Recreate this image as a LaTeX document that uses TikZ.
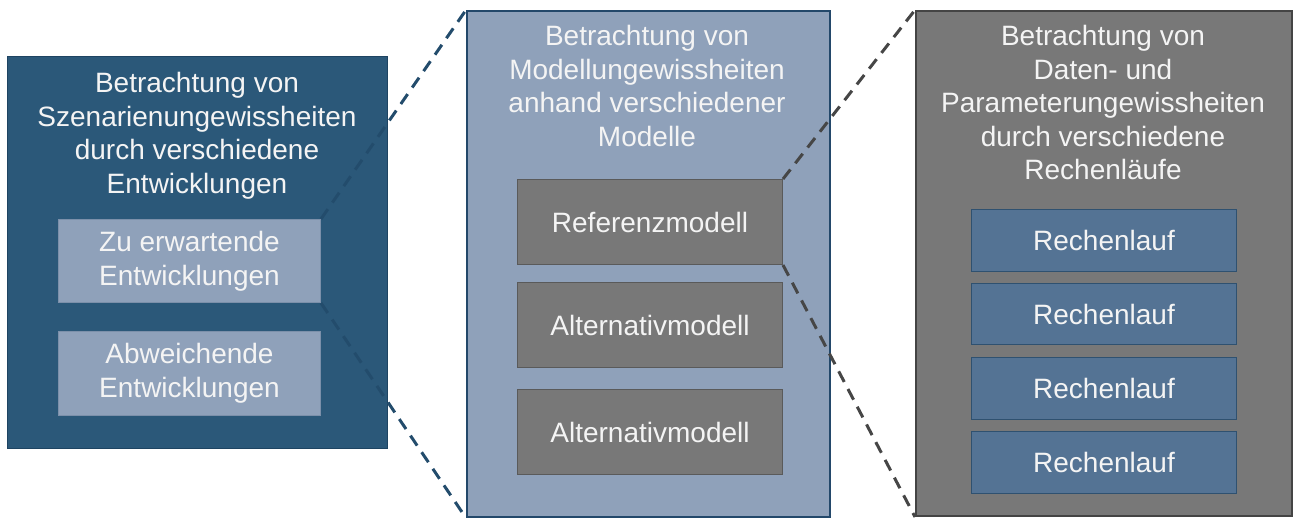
\documentclass[tikz,border=0pt]{standalone}
\usepackage{fontspec}
\setmainfont{Liberation Sans}
\definecolor{leftfill}{HTML}{2B5879}
\definecolor{leftline}{HTML}{1E4462}
\definecolor{lightfill}{HTML}{8FA1BA}
\definecolor{lightline}{HTML}{7C90AA}
\definecolor{midline}{HTML}{23486A}
\definecolor{greyfill}{HTML}{787878}
\definecolor{greyline}{HTML}{5A5A5A}
\definecolor{rightline}{HTML}{444444}
\definecolor{runfill}{HTML}{547394}
\definecolor{runline}{HTML}{2F5170}
\definecolor{dashblue}{HTML}{234C6C}
\definecolor{dashgrey}{HTML}{464646}
\definecolor{txt}{HTML}{F4F4F4}
\begin{document}
\begin{tikzpicture}[x=1pt,y=-1pt,
  box/.style={draw, rectangle, inner sep=0pt, anchor=north west, line width=#1},
  box/.default=1pt,
  lbl/.style={text=txt, align=center, font=\fontsize{28}{33.6}\selectfont},
  title/.style={lbl, anchor=north, inner sep=0pt},
  inbox/.style={box=1pt, lbl},
  conn/.style={line width=3pt, dash pattern=on 12pt off 8pt}]
\useasboundingbox (0,0) rectangle (1298,518);
% outer boxes
\node[box=1.2pt, fill=leftfill, draw=leftline, minimum width=380pt, minimum height=392pt] (L) at (7,56) {};
\node[box=2pt, fill=lightfill, draw=midline, minimum width=363pt, minimum height=506pt] (M) at (466,10) {};
\node[box=2pt, fill=greyfill, draw=rightline, minimum width=376pt, minimum height=505pt] (R) at (915,10) {};
% titles
\node[title] (Lt) at (197,72) {Betrachtung von\\Szenarienungewissheiten\\durch verschiedene\\Entwicklungen};
\node[title] (Mt) at (647,25) {Betrachtung von\\Modellungewissheiten\\anhand verschiedener\\Modelle};
\node[title] (Rt) at (1103,25) {Betrachtung von\\Daten- und\\Parameterungewissheiten\\durch verschiedene\\Rechenläufe};
% left inner boxes
\node[inbox, fill=lightfill, draw=lightline, minimum width=262pt, minimum height=83pt] (L1) at (58,219) {Zu erwartende\\Entwicklungen};
\node[inbox, fill=lightfill, draw=lightline, minimum width=262pt, minimum height=84pt] (L2) at (58,331) {Abweichende\\Entwicklungen};
% middle inner boxes
\node[inbox, fill=greyfill, draw=greyline, minimum width=265pt, minimum height=85pt] (M1) at (517,179) {Referenzmodell};
\node[inbox, fill=greyfill, draw=greyline, minimum width=265pt, minimum height=85pt] (M2) at (517,282) {Alternativmodell};
\node[inbox, fill=greyfill, draw=greyline, minimum width=265pt, minimum height=85pt] (M3) at (517,389) {Alternativmodell};
% right inner boxes
\node[inbox, fill=runfill, draw=runline, minimum width=265pt, minimum height=62pt] (R1) at (971,209) {Rechenlauf};
\node[inbox, fill=runfill, draw=runline, minimum width=265pt, minimum height=61pt] (R2) at (971,283) {Rechenlauf};
\node[inbox, fill=runfill, draw=runline, minimum width=265pt, minimum height=62pt] (R3) at (971,357) {Rechenlauf};
\node[inbox, fill=runfill, draw=runline, minimum width=265pt, minimum height=62pt] (R4) at (971,431) {Rechenlauf};
% zoom connectors
\draw[conn, draw=dashblue] (L1.north east) -- (M.north west);
\draw[conn, draw=dashblue] (L1.south east) -- (M.south west);
\draw[conn, draw=dashgrey] (M1.north east) -- (R.north west);
\draw[conn, draw=dashgrey] (M1.south east) -- (R.south west);
\end{tikzpicture}
\end{document}
